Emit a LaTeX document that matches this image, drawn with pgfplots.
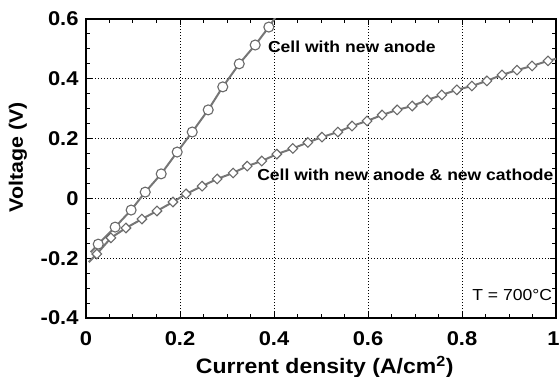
\documentclass[border=0pt]{standalone}
\usepackage{fontspec}
\setmainfont{Liberation Sans}[FakeStretch=1.1]
\usepackage{pgfplots}
\pgfplotsset{compat=1.18}
\definecolor{lgray}{RGB}{118,118,118}
\definecolor{mgray}{RGB}{105,105,105}
\begin{document}
\begin{tikzpicture}
\begin{axis}[
  at={(0,0)}, anchor=south west,
  scale only axis, width=470bp, height=299bp,
  xmin=0, xmax=1, ymin=-0.4, ymax=0.6,
  xtick={0,0.2,0.4,0.6,0.8,1},
  xticklabels={0,0.2,0.4,0.6,0.8,\kern-5bp 1},
  ytick={-0.4,-0.2,0,0.2,0.4,0.6},
  yticklabels={-0.4,-0.2,0,0.2,0.4,0.6},
  minor tick num=3,
  tick align=inside,
  major tick length=6bp, minor tick length=4bp,
  every tick/.style={black, line width=1bp},
  axis line style={line width=1.3bp},
  grid=major,
  major grid style={black, line width=0.9bp, dash pattern=on 1bp off 2bp},
  ticklabel style={font=\fontsize{20}{20}\selectfont\bfseries},
  xticklabel style={yshift=-10bp},
  yticklabel style={xshift=-4bp},
  xlabel={Current density (A/cm\textsuperscript{\bfseries 2})},
  ylabel={Voltage (V)},
  xlabel style={font=\fontsize{21}{21}\selectfont\bfseries, at={(axis description cs:0.508,-0.187)}, anchor=base},
  ylabel style={font=\fontsize{19.5}{19.5}\selectfont\bfseries, at={(axis description cs:-0.145,0.537)}, anchor=center},
]
% anode line
\addplot[lgray, line width=2bp] coordinates {
(0.010,-0.180) (0.026,-0.153) (0.062,-0.096) (0.096,-0.039) (0.126,0.021)
(0.160,0.082) (0.194,0.155) (0.226,0.222) (0.260,0.296) (0.291,0.373)
(0.326,0.450) (0.360,0.513) (0.389,0.573) (0.405,0.610)
};
% anode + cathode line
\addplot[lgray, line width=2bp] coordinates {
(0.006,-0.213) (0.023,-0.186) (0.053,-0.132) (0.085,-0.099) (0.119,-0.069)
(0.151,-0.042) (0.185,-0.012) (0.213,0.015) (0.247,0.041) (0.279,0.065)
(0.313,0.085) (0.343,0.108) (0.374,0.125) (0.406,0.148) (0.440,0.167)
(0.472,0.187) (0.502,0.205) (0.536,0.222) (0.566,0.242) (0.598,0.259)
(0.630,0.279) (0.662,0.296) (0.694,0.309) (0.726,0.329) (0.757,0.346)
(0.789,0.363) (0.821,0.376) (0.853,0.393) (0.885,0.413) (0.917,0.429)
(0.949,0.443) (0.983,0.460) (1.000,0.467)
};
% circle markers
\addplot[only marks, mark=*, mark size=5bp, mark options={draw=mgray, fill=white, line width=1.1bp}] coordinates {
(0.026,-0.153) (0.062,-0.096) (0.096,-0.039) (0.126,0.021)
(0.160,0.082) (0.194,0.155) (0.226,0.222) (0.260,0.296) (0.291,0.373)
(0.326,0.450) (0.360,0.513) (0.389,0.573)
};
% diamond markers
\addplot[only marks, mark=square*, mark size=3.4bp, mark options={rotate=45, draw=mgray, fill=white, line width=1.1bp}] coordinates {
(0.023,-0.186) (0.053,-0.132) (0.085,-0.099) (0.119,-0.069)
(0.151,-0.042) (0.185,-0.012) (0.213,0.015) (0.247,0.041) (0.279,0.065)
(0.313,0.085) (0.343,0.108) (0.374,0.125) (0.406,0.148) (0.440,0.167)
(0.472,0.187) (0.502,0.205) (0.536,0.222) (0.566,0.242) (0.598,0.259)
(0.630,0.279) (0.662,0.296) (0.694,0.309) (0.726,0.329) (0.757,0.346)
(0.789,0.363) (0.821,0.376) (0.853,0.393) (0.885,0.413) (0.917,0.429)
(0.949,0.443) (0.983,0.460)
};
\node[anchor=west, font=\fontsize{16}{16}\selectfont\bfseries, inner sep=0pt] at (axis cs:0.387,0.506) {Cell with new anode};
\node[anchor=west, font=\fontsize{16}{16}\selectfont\bfseries, inner sep=0pt] at (axis cs:0.364,0.078) {Cell with new anode \& new cathode};
\node[anchor=east, font=\fontsize{16}{16}\selectfont, inner sep=0pt] at (axis cs:0.992,-0.322) {T = 700°C};
\end{axis}
\pgfresetboundingbox
\path[use as bounding box] (-86bp,-59bp) rectangle (474bp,318bp);
\end{tikzpicture}
\end{document}
